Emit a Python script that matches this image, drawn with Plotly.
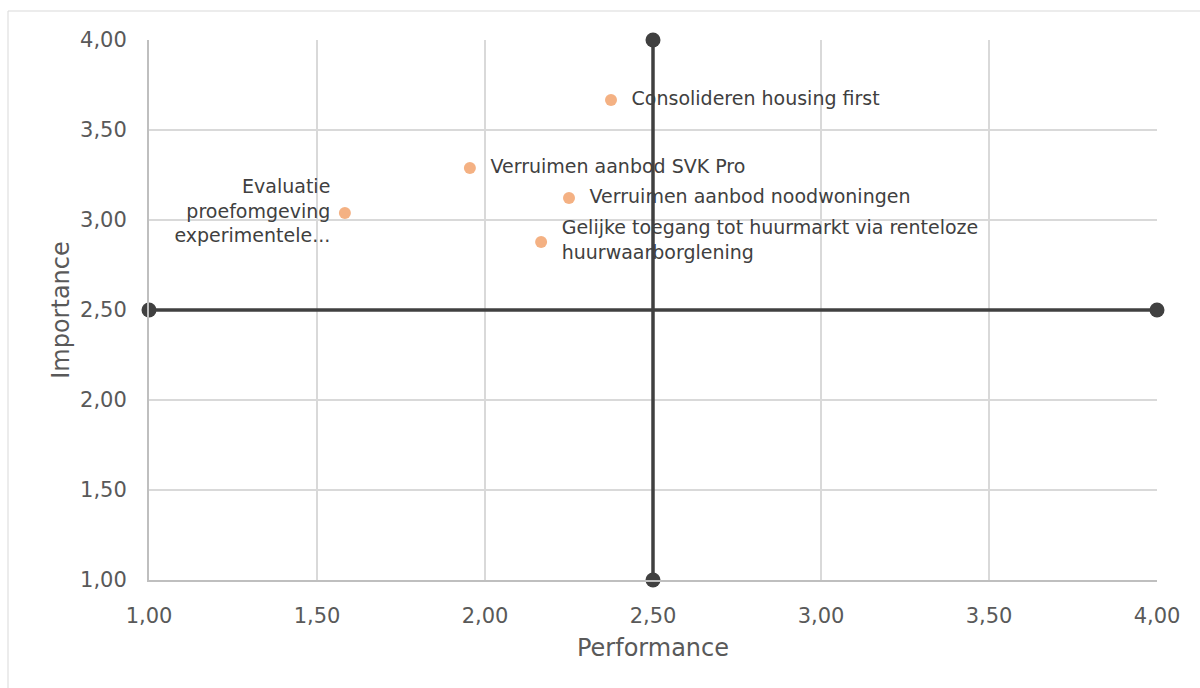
import plotly.graph_objects as go

labels = ["Consolideren housing first", "Verruimen aanbod SVK Pro", "Verruimen aanbod noodwoningen",
          "Evaluatie<br>proefomgeving<br>experimentele...",
          "Gelijke toegang tot huurmarkt via renteloze<br>huurwaarborglening"]
performance = [2.375, 1.955, 2.25, 1.583, 2.167]
importance = [3.667, 3.289, 3.122, 3.039, 2.878]
positions = ["middle right", "middle right", "middle right", "middle left", "middle right"]

mid = 2.5
axis_min, axis_max = 1.0, 4.0
ticks = [1.0, 1.5, 2.0, 2.5, 3.0, 3.5, 4.0]
tick_text = [f"{t:.2f}".replace(".", ",") for t in ticks]

font = "DejaVu Sans"
dark = "#404040"
pad = "\u00a0\u00a0"
shown = []
for lab, pos in zip(labels, positions):
    lines = lab.split("<br>")
    if pos.endswith("right"):
        shown.append("<br>".join(pad + l for l in lines))
    else:
        shown.append("<br>".join(l + "\u00a0" for l in lines))

fig = go.Figure()
fig.add_trace(go.Scatter(x=[axis_min, axis_max], y=[mid, mid], mode="lines+markers",
                         line=dict(color=dark, width=3.5), marker=dict(size=15, color=dark),
                         showlegend=False, hoverinfo="skip", cliponaxis=False))
fig.add_trace(go.Scatter(x=[mid, mid], y=[axis_min, axis_max], mode="lines+markers",
                         line=dict(color=dark, width=3.5), marker=dict(size=15, color=dark),
                         showlegend=False, hoverinfo="skip", cliponaxis=False))
fig.add_trace(go.Scatter(x=performance, y=importance, mode="markers+text", text=shown,
                         textposition=positions, textfont=dict(family=font, size=19, color=dark),
                         marker=dict(size=12, color="#F4B183"), showlegend=False, cliponaxis=False))

fig.add_shape(type="rect", xref="paper", yref="paper",
              x0=(8 - 149) / 1008, x1=(1215 - 149) / 1008,
              y0=(580 - 700) / 540, y1=(580 - 11) / 540,
              line=dict(color="#d9d9d9", width=1), fillcolor="rgba(0,0,0,0)", layer="below")

fig.update_layout(
    width=1200, height=688, margin=dict(l=149, r=43, t=40, b=108),
    paper_bgcolor="white", plot_bgcolor="white",
    font=dict(family=font, size=19, color="#595959"),
    xaxis=dict(range=[axis_min, axis_max], tickvals=ticks, ticktext=tick_text,
               tickfont=dict(size=21, color="#595959"),
               showgrid=True, gridcolor="#d9d9d9", gridwidth=2, zeroline=False,
               showline=True, linecolor="#bfbfbf", linewidth=2, mirror=False,
               ticks="", ticklabelstandoff=16,
               title=dict(text="Performance", font=dict(size=24, color="#595959"), standoff=12)),
    yaxis=dict(range=[axis_min, axis_max], tickvals=ticks, ticktext=tick_text,
               tickfont=dict(size=21, color="#595959"),
               showgrid=True, gridcolor="#d9d9d9", gridwidth=2, zeroline=False,
               showline=True, linecolor="#bfbfbf", linewidth=2,
               ticks="", ticklabelstandoff=16,
               title=dict(text="Importance", font=dict(size=24, color="#595959"), standoff=4)),
)

fig.write_html("out.html")
